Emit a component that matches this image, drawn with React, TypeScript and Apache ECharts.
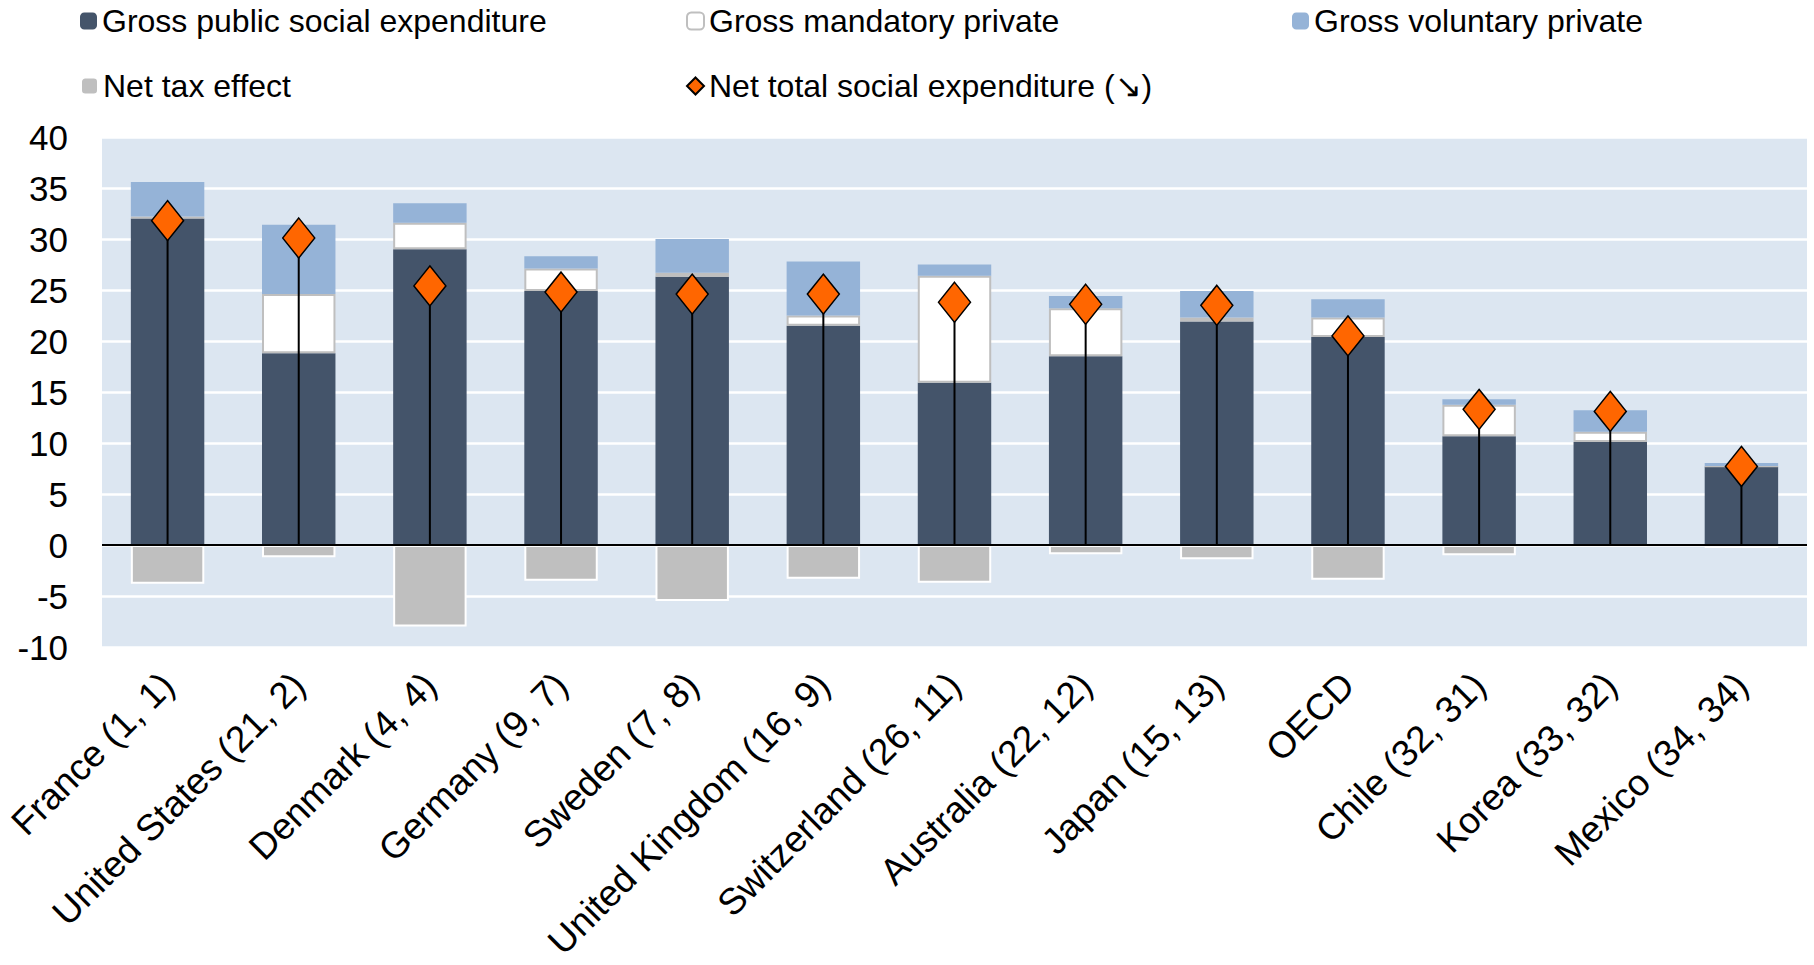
import React, { useEffect, useRef } from "react";
import * as echarts from "echarts";

const categories = [
  "France (1, 1)",
  "United States (21, 2)",
  "Denmark (4, 4)",
  "Germany (9, 7)",
  "Sweden (7, 8)",
  "United Kingdom (16, 9)",
  "Switzerland (26, 11)",
  "Australia (22, 12)",
  "Japan (15, 13)",
  "OECD",
  "Chile (32, 31)",
  "Korea (33, 32)",
  "Mexico (34, 34)",
];

const grossPublic = [32.0, 18.8, 29.0, 24.9, 26.3, 21.5, 15.9, 18.5, 21.9, 20.4, 10.65, 10.1, 7.7];
const grossMandatory = [0.2, 5.8, 2.6, 2.2, 0.4, 1.0, 10.5, 4.7, 0.4, 1.9, 3.1, 1.0, 0.05];
const grossVoluntary = [3.4, 6.8, 1.9, 1.2, 3.3, 5.3, 1.1, 1.2, 2.6, 1.8, 0.55, 2.1, 0.3];
const netTaxEffect = [-3.8, -1.2, -8.0, -3.5, -5.5, -3.3, -3.7, -0.9, -1.4, -3.4, -1.0, -0.2, -0.3];
const netTotal = [31.8, 30.1, 25.4, 24.8, 24.6, 24.6, 23.8, 23.6, 23.5, 20.5, 13.3, 13.1, 7.7];

const yTicks = { min: -10, max: 40, interval: 5 };

const NAMES = {
  pub: "Gross public social expenditure",
  mand: "Gross mandatory private",
  vol: "Gross voluntary private",
  tax: "Net tax effect",
  net: "Net total social expenditure (\u2198)",
};

const FONT = 'Arial, "Liberation Sans", sans-serif';

export default function App() {
  const ref = useRef<HTMLDivElement>(null);

  useEffect(() => {
    if (!ref.current) return;
    const chart = echarts.init(ref.current, undefined, { renderer: "svg" });

    const legendBase = {
      itemWidth: 17,
      itemHeight: 17,
      textStyle: { fontFamily: FONT, fontSize: 32, color: "#000" },
      itemGap: 0,
      selectedMode: false,
      padding: 0,
    };

    const option = {
      animation: false,
      backgroundColor: "#fff",
      textStyle: { fontFamily: FONT },
      legend: [
        { ...legendBase, left: 80, top: 5, data: [NAMES.pub] },
        { ...legendBase, left: 686, top: 5, data: [NAMES.mand] },
        { ...legendBase, left: 1292, top: 5, data: [NAMES.vol] },
        { ...legendBase, left: 80, top: 70, data: [NAMES.tax] },
        { ...legendBase, left: 686, top: 70, data: [NAMES.net] },
      ],
      grid: {
        left: 102,
        right: 7,
        top: 137,
        height: 510,
        show: true,
        backgroundColor: "#DCE6F1",
        borderWidth: 0,
        containLabel: false,
      },
      xAxis: {
        type: "category",
        data: categories,
        axisLine: { show: false, onZero: false },
        axisTick: { show: false },
        axisLabel: {
          rotate: 45,
          interval: 0,
          fontSize: 37,
          fontFamily: FONT,
          color: "#000",
          margin: 32,
        },
        splitLine: { show: false },
      },
      yAxis: {
        type: "value",
        min: yTicks.min,
        max: yTicks.max,
        interval: yTicks.interval,
        axisLine: { show: false },
        axisTick: { show: false },
        axisLabel: { fontSize: 35, fontFamily: FONT, color: "#000", margin: 34 },
        splitLine: { show: true, lineStyle: { color: "#FFFFFF", width: 2.5 } },
      },
      series: [
        {
          name: NAMES.pub,
          type: "bar",
          stack: "total",
          data: grossPublic,
          barCategoryGap: "44%",
          itemStyle: { color: "#44546A" },
          markLine: {
            silent: true,
            symbol: "none",
            label: { show: false },
            lineStyle: { color: "#000", width: 2, type: "solid" },
            data: [{ yAxis: 0 }],
            z: 5,
          },
        },
        {
          name: NAMES.mand,
          type: "bar",
          stack: "total",
          data: grossMandatory,
          itemStyle: { color: "#FFFFFF", borderColor: "#BFBFBF", borderWidth: 2 },
        },
        {
          name: NAMES.vol,
          type: "bar",
          stack: "total",
          data: grossVoluntary,
          itemStyle: { color: "#95B3D7" },
        },
        {
          name: NAMES.tax,
          type: "bar",
          stack: "total",
          data: netTaxEffect,
          itemStyle: { color: "#BFBFBF", borderColor: "#FFFFFF", borderWidth: 2 },
        },
        {
          name: "drop",
          type: "custom",
          data: netTotal.map((v, i) => [i, v]),
          z: 6,
          silent: true,
          renderItem: (params: any, api: any) => {
            const x = api.value(0);
            const v = api.value(1);
            const p0 = api.coord([x, 0]);
            const p1 = api.coord([x, v]);
            return {
              type: "line",
              shape: { x1: p0[0], y1: p0[1], x2: p1[0], y2: p1[1] },
              style: { stroke: "#000", lineWidth: 2 },
            };
          },
        },
        {
          name: NAMES.net,
          type: "scatter",
          data: netTotal,
          symbol: "diamond",
          symbolSize: [32, 40],
          z: 10,
          itemStyle: { color: "#FF6600", borderColor: "#000", borderWidth: 1.5, opacity: 1 },
        },
      ],
    };

    chart.setOption(option as any);
    return () => chart.dispose();
  }, []);

  return (
    <div
      ref={ref}
      style={{ position: "absolute", left: 0, top: 0, width: 1814, height: 965 }}
    />
  );
}
